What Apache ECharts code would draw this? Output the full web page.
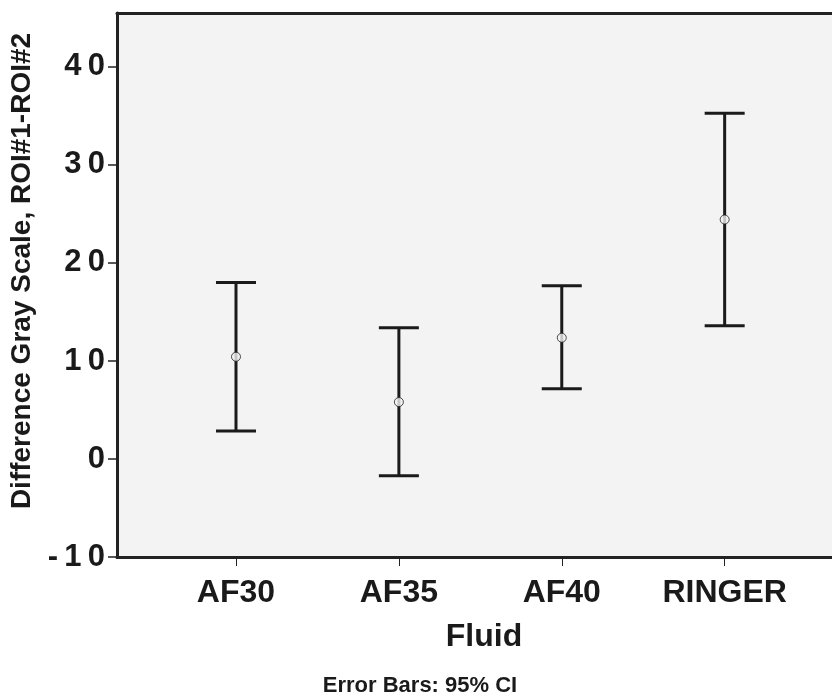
<!DOCTYPE html>
<html>
<head>
<meta charset="utf-8">
<script src="https://cdn.jsdelivr.net/npm/echarts@6/dist/echarts.min.js"></script>
<style>
  html, body { margin: 0; padding: 0; background: #fff; }
  #chart { width: 832px; height: 695px; }
</style>
</head>
<body>
<div id="chart"></div>
<script>
// fluid groups and the 95% CI
const categories = ['AF30', 'AF35', 'AF40', 'RINGER'];
const means = [10.43, 5.81, 12.37, 24.43];
const lower = [2.85, -1.70, 7.17, 13.59];
const upper = [18.0, 13.38, 17.67, 35.27];
const yTicks = [-10, 0, 10, 20, 30, 40];

const positions = categories.map((c, i) => i + 1);
const font = '"Liberation Sans", Arial, sans-serif';
const ink = '#1a1a1a';
const xMin = 0.2695, xMax = 4.659;

// spread digits apart like the original ("4 0")
function spaced(v) {
  return String(v).split('').join('\u2009');
}

const chart = echarts.init(document.getElementById('chart'));

chart.setOption({
  animation: false,
  grid: {
    left: 117, top: 13, right: 0, bottom: 138,
    show: true,
    backgroundColor: '#f3f3f3',
    borderWidth: 0
  },
  xAxis: [
    {
      type: 'value',
      min: xMin,
      max: xMax,
      splitLine: { show: false },
      axisLine: { show: true, onZero: false, lineStyle: { color: '#222', width: 3 } },
      axisTick: {
        show: true, length: 9, customValues: positions,
        lineStyle: { color: '#222', width: 1 }
      },
      axisLabel: {
        customValues: positions,
        margin: 20,
        fontFamily: font, fontWeight: 'bold', fontSize: 32, color: ink,
        formatter: v => categories[Math.round(v) - 1] || ''
      }
    },
    {
      // top frame line only
      type: 'value', position: 'top',
      min: xMin, max: xMax,
      splitLine: { show: false },
      axisLine: { show: true, onZero: false, lineStyle: { color: '#222', width: 3 } },
      axisTick: { show: false },
      axisLabel: { show: false }
    }
  ],
  yAxis: {
    type: 'value',
    min: -10,
    max: 45.5,
    splitLine: { show: false },
    axisLine: { show: true, onZero: false, lineStyle: { color: '#222', width: 3 } },
    axisTick: {
      show: true, length: 9, customValues: yTicks,
      lineStyle: { color: '#222', width: 1.5 }
    },
    axisLabel: {
      customValues: yTicks,
      margin: 12,
      fontFamily: font, fontWeight: 'bold', fontSize: 31, color: ink,
      formatter: v => spaced(v)
    }
  },
  graphic: [
    {
      type: 'text', x: 22, y: 271, rotation: Math.PI / 2,
      style: {
        text: 'Difference Gray Scale, ROI#1-ROI#2',
        font: 'bold 28px ' + font, fill: ink,
        textAlign: 'center', textVerticalAlign: 'middle'
      }
    },
    {
      type: 'text', x: 484, y: 637,
      style: {
        text: 'Fluid', font: 'bold 32px ' + font, fill: ink,
        textAlign: 'center', textVerticalAlign: 'middle'
      }
    },
    {
      type: 'text', x: 420, y: 686,
      style: {
        text: 'Error Bars: 95% CI', font: 'bold 22px ' + font, fill: ink,
        textAlign: 'center', textVerticalAlign: 'middle'
      }
    }
  ],
  series: [
    {
      type: 'custom',
      data: positions.map((x, i) => [x, lower[i], upper[i]]),
      renderItem: (params, api) => {
        const lo = api.coord([api.value(0), api.value(1)]);
        const hi = api.coord([api.value(0), api.value(2)]);
        const half = 20;
        const style = { stroke: ink, lineWidth: 3 };
        return {
          type: 'group',
          children: [
            { type: 'line', shape: { x1: lo[0], y1: lo[1], x2: hi[0], y2: hi[1] }, style },
            { type: 'line', shape: { x1: hi[0] - half, y1: hi[1], x2: hi[0] + half, y2: hi[1] }, style },
            { type: 'line', shape: { x1: lo[0] - half, y1: lo[1], x2: lo[0] + half, y2: lo[1] }, style }
          ]
        };
      },
      z: 2
    },
    {
      type: 'scatter',
      data: positions.map((x, i) => [x, means[i]]),
      symbol: 'circle',
      symbolSize: 9,
      itemStyle: { color: '#f3f3f3', borderColor: '#222', borderWidth: 1 },
      z: 3
    }
  ]
});
</script>
</body>
</html>
